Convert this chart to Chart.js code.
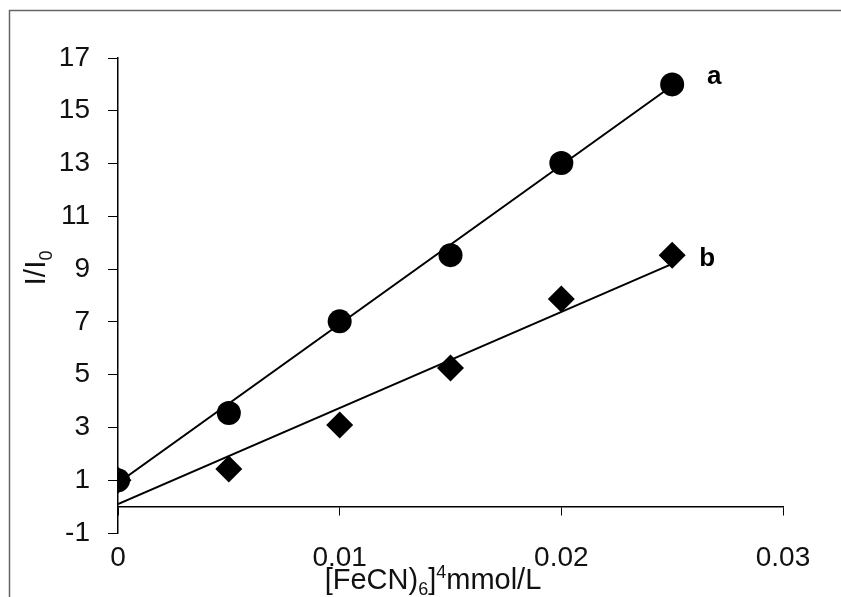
<!DOCTYPE html>
<html>
<head>
<meta charset="utf-8">
<script src="https://cdn.jsdelivr.net/npm/chart.js@4.4.1/dist/chart.umd.min.js"></script>
<style>
html, body { margin:0; padding:0; background:#fff; }
</style>
</head>
<body>
<canvas id="grafico" width="841" height="597"></canvas>
<script>
/* concentracion [FeCN)6]4 mmol/L */
const conc = [0, 0.005, 0.01, 0.015, 0.02, 0.025];
/* serie a (circulos) y serie b (rombos), I/I0 */
const serieA = [1.0, 3.55, 7.02, 9.53, 13.02, 16.0];
const serieB = [1.0, 1.43, 3.09, 5.25, 7.87, 9.53];
/* rectas de ajuste: extremos */
const ajusteX = [0, 0.025];
const ajusteA = [0.9, 15.95];
const ajusteB = [0.1, 9.2];
/* ticks */
const ticksX = [0, 0.01, 0.02, 0.03];
const ticksY = [-1, 1, 3, 5, 7, 9, 11, 13, 15, 17];

const fuente = "'Liberation Sans', Arial, sans-serif";

function puntos(xs, ys) {
    return xs.map((x, i) => ({x: x, y: ys[i]}));
}

// marco, titulos y letras a / b
const extras = {
    id: 'extras',
    afterDraw(chart) {
        const ctx = chart.ctx;
        ctx.save();
        // marco gris
        ctx.strokeStyle = '#666';
        ctx.lineWidth = 1.5;
        ctx.beginPath();
        ctx.moveTo(9.5, 597);
        ctx.lineTo(9.5, 10.5);
        ctx.lineTo(841, 10.5);
        ctx.stroke();

        ctx.fillStyle = '#111';
        ctx.textBaseline = 'alphabetic';

        // titulo eje x: [FeCN)6]4mmol/L
        const big = '29px ' + fuente, small = '18px ' + fuente;
        const partes = [
            {t: '[FeCN)', f: big, dy: 0},
            {t: '6', f: small, dy: 6},
            {t: ']', f: big, dy: 0},
            {t: '4', f: small, dy: -11},
            {t: 'mmol/L', f: big, dy: 0}
        ];
        let ancho = 0;
        partes.forEach(p => { ctx.font = p.f; p.w = ctx.measureText(p.t).width; ancho += p.w; });
        let x = 433 - ancho / 2;
        partes.forEach(p => {
            ctx.font = p.f;
            ctx.textAlign = 'left';
            ctx.fillText(p.t, x, 589 + p.dy);
            x += p.w;
        });

        // titulo eje y: I/I0
        ctx.translate(45, 268);
        ctx.rotate(-Math.PI / 2);
        ctx.font = '30px ' + fuente;
        const w1 = ctx.measureText('I/I').width;
        ctx.font = '18px ' + fuente;
        const w2 = ctx.measureText('0').width;
        let xx = -(w1 + w2) / 2;
        ctx.font = '30px ' + fuente;
        ctx.fillText('I/I', xx, 0);
        ctx.font = '18px ' + fuente;
        ctx.fillText('0', xx + w1, 7);
        ctx.restore();

        // letras de las series
        ctx.save();
        ctx.fillStyle = '#000';
        ctx.font = 'bold 26px ' + fuente;
        ctx.textAlign = 'center';
        ctx.textBaseline = 'middle';
        const pa = chart.getDatasetMeta(0).data[conc.length - 1];
        const pb = chart.getDatasetMeta(1).data[conc.length - 1];
        ctx.fillText('a', pa.x + 42, pa.y - 8);
        ctx.fillText('b', pb.x + 35, pb.y + 4);
        ctx.restore();
    }
};

let ctxGraf = document.getElementById('grafico').getContext('2d');
let graf = new Chart(ctxGraf, {
    type: 'scatter',
    data: {
        datasets: [{
            label: 'a',
            data: puntos(conc, serieA),
            pointStyle: 'circle',
            pointRadius: 12,
            backgroundColor: '#000',
            borderColor: '#000',
            borderWidth: 0,
            order: 0
        }, {
            label: 'b',
            data: puntos(conc, serieB),
            pointStyle: 'rectRot',
            pointRadius: 13.5,
            backgroundColor: '#000',
            borderColor: '#000',
            borderWidth: 0,
            order: 1
        }, {
            label: 'ajuste a',
            data: puntos(ajusteX, ajusteA),
            showLine: true,
            pointRadius: 0,
            borderColor: '#000',
            borderWidth: 2,
            order: 2
        }, {
            label: 'ajuste b',
            data: puntos(ajusteX, ajusteB),
            showLine: true,
            pointRadius: 0,
            borderColor: '#000',
            borderWidth: 2,
            order: 2
        }]
    },
    options: {
        responsive: false,
        animation: false,
        devicePixelRatio: 1,
        layout: { padding: { top: 58, right: 58, bottom: 0, left: 0 } },
        plugins: {
            legend: { display: false },
            tooltip: { enabled: false }
        },
        scales: {
            x: {
                type: 'linear',
                position: 'bottom',
                min: 0,
                max: 0.03,
                afterBuildTicks: s => { s.ticks = ticksX.map(v => ({value: v})); },
                afterFit: s => { s.height = 64; },
                grid: { display: false },
                border: { display: false },
                ticks: {
                    color: '#111',
                    font: { family: fuente, size: 28 },
                    padding: 0,
                    callback: v => String(+v.toFixed(3))
                }
            },
            x0: {
                type: 'linear',
                axis: 'x',
                position: { y: 0 },
                min: 0,
                max: 0.03,
                afterBuildTicks: s => { s.ticks = ticksX.map(v => ({value: v})); },
                grid: { drawOnChartArea: false, color: '#000', tickLength: 8, lineWidth: 1 },
                border: { color: '#000', width: 1.5 },
                ticks: { display: false }
            },
            y: {
                type: 'linear',
                min: -1,
                max: 17,
                afterBuildTicks: s => { s.ticks = ticksY.map(v => ({value: v})); },
                afterFit: s => { s.width = 118; },
                grid: { drawOnChartArea: false, color: '#000', tickLength: 10, lineWidth: 1 },
                border: { color: '#000', width: 1.5 },
                ticks: {
                    color: '#111',
                    font: { family: fuente, size: 28 },
                    padding: 18
                }
            }
        }
    },
    plugins: [extras]
});
</script>
</body>
</html>
